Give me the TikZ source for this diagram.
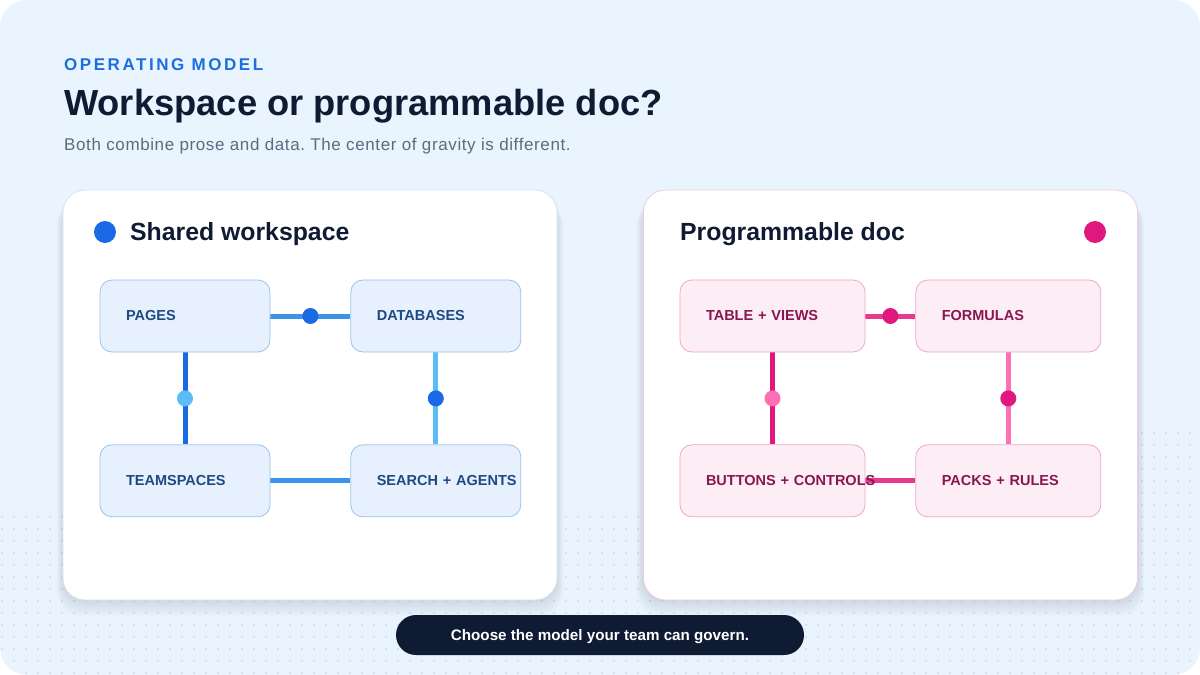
\documentclass[tikz,border=0pt]{standalone}
\usepackage{fontspec}
\setmainfont{Liberation Sans}
\usepackage{xcolor}
\definecolor{opbg}{HTML}{EAF4FE}
\definecolor{opink}{HTML}{0F1B33}
\definecolor{opeyebrow}{HTML}{1A6EE0}
\definecolor{opgrey}{HTML}{5B6B80}
\definecolor{opdots}{HTML}{C3D0DD}
\definecolor{opshadow}{HTML}{6A7E96}
\definecolor{wsdark}{HTML}{1A6AE5}
\definecolor{wsmid}{HTML}{3D92EA}
\definecolor{wslight}{HTML}{5BBCF6}
\definecolor{wsfill}{HTML}{E6F1FD}
\definecolor{wsedge}{HTML}{9CC3EA}
\definecolor{wstext}{HTML}{1E4A82}
\definecolor{wscard}{HTML}{D5E3F1}
\definecolor{pddark}{HTML}{E0187D}
\definecolor{pdmid}{HTML}{E8398F}
\definecolor{pdlight}{HTML}{FF6FB3}
\definecolor{pdfill}{HTML}{FDEEF6}
\definecolor{pdedge}{HTML}{EBA9CB}
\definecolor{pdtext}{HTML}{8A1553}
\definecolor{pdcard}{HTML}{F1CADD}
\usepackage{tikz}
\usetikzlibrary{positioning}

\pgfdeclarelayer{cards}
\pgfdeclarelayer{links}
\pgfsetlayers{cards,links,main}
\frenchspacing

\begin{document}
\begin{tikzpicture}[
  x=1pt, y=-1pt,
  card/.style={rounded corners=22pt, fill=white, line width=0.8pt,
               minimum width=494pt, minimum height=410pt, inner sep=0pt},
  cardshadow/.style={opshadow, opacity=0.022, rounded corners=24pt},
  box/.style={rounded corners=12pt, line width=0.8pt, minimum height=72pt,
              inner xsep=26pt, inner ysep=0pt, align=left,
              font=\fontsize{14.5}{16}\selectfont\bfseries},
  wsbox/.style={box, draw=wsedge, fill=wsfill, text=wstext, text width=118pt},
  pdbox/.style={box, draw=pdedge, fill=pdfill, text=pdtext, text width=133pt},
  link/.style={line width=5pt},
  jdot/.style={circle, inner sep=0pt, minimum size=16pt},
  cardtitle/.style={anchor=base west, inner sep=0pt, text=opink,
                    font=\fontsize{24.8}{28}\selectfont\bfseries},
  node distance=92pt and 80pt
]
  % page and cards
  \begin{pgfonlayer}{cards}
    \fill[white] (0,0) rectangle (1200,675);
    \fill[opbg, rounded corners=27pt] (0,0) rectangle (1200,675);
    \begin{scope}
      \clip[rounded corners=27pt] (0,0) rectangle (1200,675);
      \foreach \x in {2,14,...,1198}
        \foreach \y in {517,529,...,673}
          \fill[opdots] (\x,\y) circle (0.8pt);
      \foreach \x in {1142,1154,...,1198}
        \foreach \y in {433,445,...,505}
          \fill[opdots] (\x,\y) circle (0.8pt);
    \end{scope}
    \foreach \s in {1,...,9} {
      \fill[cardshadow] (63-0.7*\s,200) rectangle (557+0.7*\s,600+1.8*\s);
      \fill[cardshadow] (643-0.7*\s,200) rectangle (1138+0.7*\s,600+1.8*\s);
    }
    \node[card, draw=wscard] (wscard) at (310,395) {};
    \node[card, draw=pdcard] (pdcard) at (890.5,395) {};
  \end{pgfonlayer}

  % heading
  \node[anchor=base west, inner sep=0pt, text=opeyebrow,
        font=\fontsize{17}{20}\selectfont\bfseries\addfontfeature{LetterSpace=15}]
        (eyebrow) at (64,70) {OPERATING MODEL};
  \node[anchor=base west, inner sep=0pt, text=opink,
        font=\fontsize{36.3}{42}\selectfont\bfseries]
        (title) at (64,115) {Workspace or programmable doc?};
  \node[anchor=base west, inner sep=0pt, text=opgrey,
        font=\fontsize{17}{20}\selectfont\addfontfeature{LetterSpace=3.6}]
        (subtitle) at (64,150) {Both combine prose and data. The center of gravity is different.};

  % shared workspace
  \node[circle, fill=wsdark, minimum size=22pt, inner sep=0pt] (wsmark) at (105,232) {};
  \node[cardtitle] (wstitle) at (130,240) {Shared workspace};
  \node[wsbox] (pages) at (185,316) {PAGES};
  \node[wsbox, right=of pages] (databases) {DATABASES};
  \node[wsbox, below=of pages] (teamspaces) {TEAMSPACES};
  \node[wsbox, below=of databases] (search) {\mbox{SEARCH + AGENTS}};

  % programmable doc
  \node[circle, fill=pddark, minimum size=22pt, inner sep=0pt] (pdmark) at (1095,232) {};
  \node[cardtitle] (pdtitle) at (680,240) {Programmable doc};
  \node[pdbox] (tables) at (772.5,316) {TABLE + VIEWS};
  \node[pdbox, right=50pt of tables] (formulas) {FORMULAS};
  \node[pdbox, below=of tables] (buttons) {\mbox{BUTTONS + CONTROLS}};
  \node[pdbox, below=of formulas] (packs) {PACKS + RULES};

  \begin{pgfonlayer}{links}
    \draw[link, wsmid] (pages) -- node[jdot, fill=wsdark] (wsj1) {} (databases);
    \draw[link, wsdark] (pages) -- node[jdot, fill=wslight] (wsj2) {} (teamspaces);
    \draw[link, wslight] (databases) -- node[jdot, fill=wsdark] (wsj3) {} (search);
    \draw[link, wsmid] (teamspaces) -- (search);
    \draw[link, pdmid] (tables) -- node[jdot, fill=pddark] (pdj1) {} (formulas);
    \draw[link, pddark] (tables) -- node[jdot, fill=pdlight] (pdj2) {} (buttons);
    \draw[link, pdlight] (formulas) -- node[jdot, fill=pddark] (pdj3) {} (packs);
    \draw[link, pdmid] (buttons) -- (packs);
  \end{pgfonlayer}

  % closing pill
  \node[fill=opink, rounded corners=20pt, minimum width=408pt, minimum height=40pt,
        text depth=0pt, text=white, font=\fontsize{15.2}{17}\selectfont\bfseries]
        (pill) at (600,635) {Choose the model your team can govern.};
\end{tikzpicture}
\end{document}
